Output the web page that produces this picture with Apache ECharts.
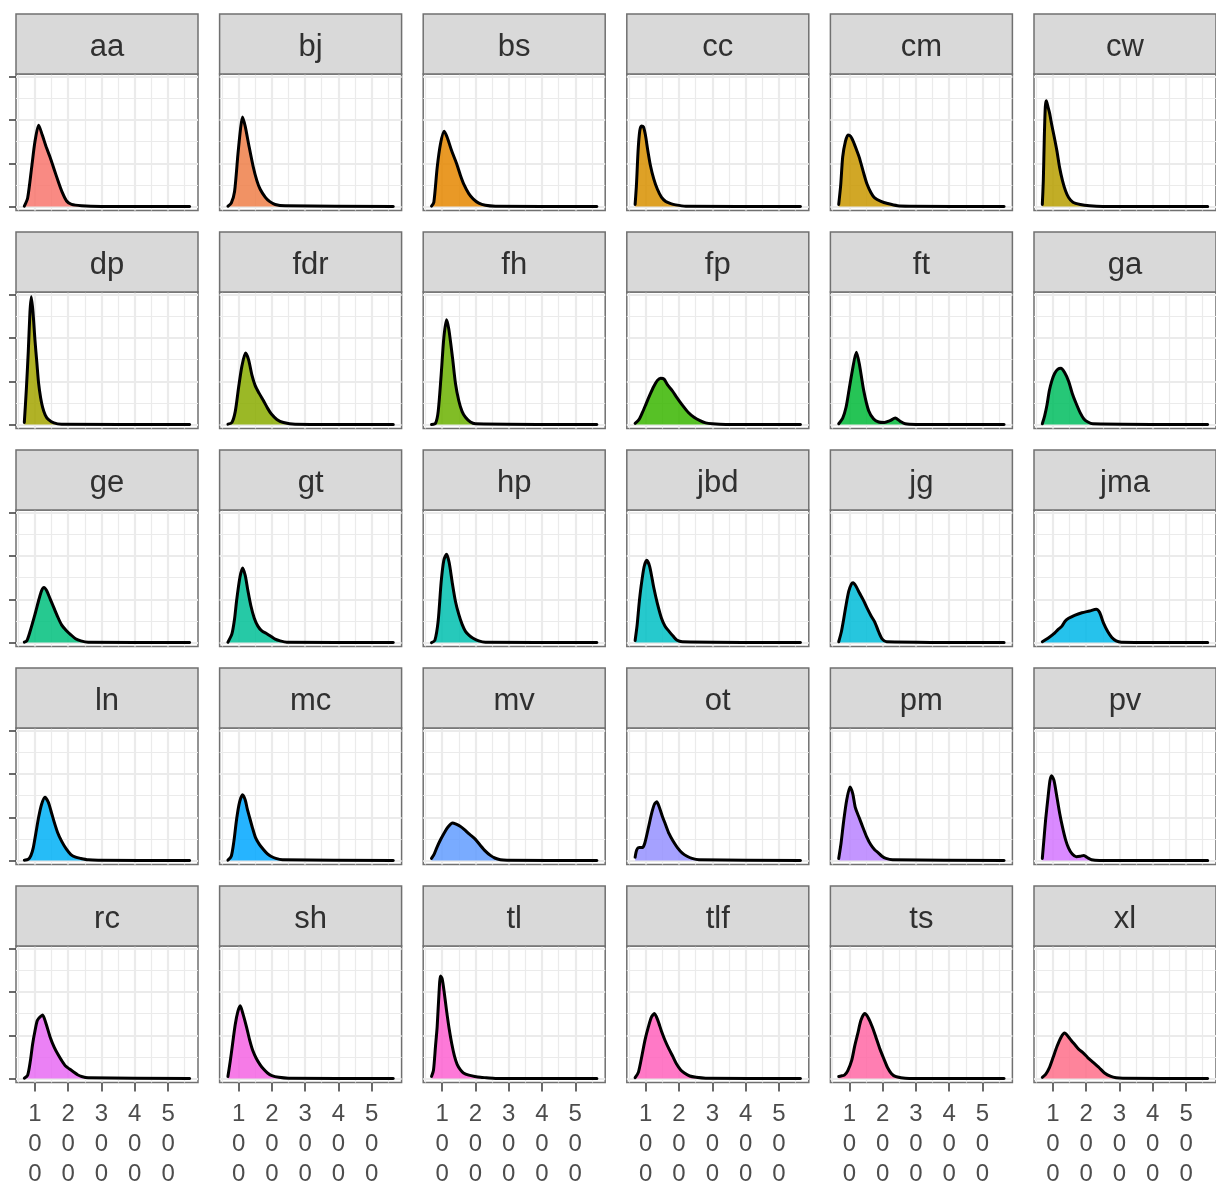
<!DOCTYPE html>
<html>
<head>
<meta charset="utf-8">
<title>Density by group</title>
<script src="https://cdn.jsdelivr.net/npm/echarts@6/dist/echarts.min.js"></script>
<style>
  html, body { margin: 0; padding: 0; background: #ffffff; }
  #chart { width: 1216px; height: 1184px; }
</style>
</head>
<body>
<div id="chart"></div>
<script>
// Facet names, in panel order (left to right, top to bottom)
const groups = ['aa', 'bj', 'bs', 'cc', 'cm', 'cw',
                'dp', 'fdr', 'fh', 'fp', 'ft', 'ga',
                'ge', 'gt', 'hp', 'jbd', 'jg', 'jma',
                'ln', 'mc', 'mv', 'ot', 'pm', 'pv',
                'rc', 'sh', 'tl', 'tlf', 'ts', 'xl'];

// Axis breaks
const xTicks = [100, 200, 300, 400, 500];
const xMinor = [50, 150, 250, 350, 450, 550];
const yTicks = [0, 1, 2, 3];
const yMinor = [0.5, 1.5, 2.5];

// Estimated density curves: [value, density]
const aa  = [[68,0.01],[78,0.2],[90,0.9],[100,1.5],[111,1.88],[122,1.65],[135,1.35],[146,1.13],[158,0.85],[170,0.58],[182,0.33],[195,0.13],[210,0.05],[240,0.02],[300,0.005],[565,0]];
const bj  = [[68,0.01],[78,0.08],[88,0.35],[98,1.2],[106,1.8],[112,2.07],[120,1.85],[130,1.45],[144,0.92],[155,0.6],[165,0.4],[180,0.22],[193,0.12],[210,0.05],[240,0.02],[565,0]];
const bs  = [[68,0.01],[75,0.1],[85,0.9],[95,1.45],[106,1.74],[115,1.6],[128,1.3],[143,1.0],[155,0.72],[166,0.5],[180,0.3],[193,0.18],[210,0.08],[230,0.03],[260,0.01],[565,0]];
const cc  = [[68,0.05],[72,0.5],[77,1.3],[82,1.75],[87,1.86],[93,1.84],[99,1.65],[106,1.3],[114,0.95],[124,0.64],[135,0.4],[147,0.22],[160,0.12],[175,0.07],[190,0.04],[220,0.01],[565,0]];
const cm  = [[68,0.05],[74,0.5],[80,1.15],[88,1.5],[96,1.65],[104,1.62],[112,1.5],[122,1.3],[130,1.13],[142,0.8],[153,0.52],[165,0.32],[176,0.2],[195,0.12],[215,0.07],[245,0.02],[280,0.01],[565,0]];
const cw  = [[68,0.05],[71,0.6],[74,1.6],[77,2.3],[80,2.44],[85,2.3],[90,2.15],[96,1.9],[104,1.6],[112,1.28],[120,0.9],[129,0.59],[138,0.36],[147,0.21],[160,0.1],[182,0.05],[210,0.02],[250,0.005],[565,0]];
const dp  = [[68,0.05],[74,0.8],[80,1.7],[85,2.6],[89,2.95],[94,2.6],[100,1.95],[106,1.4],[111,0.95],[117,0.62],[123,0.4],[131,0.22],[140,0.12],[157,0.04],[180,0.01],[565,0]];
const fdr = [[68,0.01],[80,0.05],[90,0.3],[100,0.85],[110,1.35],[121,1.65],[130,1.5],[140,1.15],[150,0.9],[162,0.72],[175,0.55],[187,0.38],[198,0.25],[215,0.12],[235,0.05],[270,0.01],[565,0]];
const fh  = [[68,0],[80,0.03],[88,0.3],[97,1.15],[105,2.0],[113,2.42],[120,2.2],[131,1.55],[140,0.95],[150,0.55],[160,0.3],[170,0.17],[185,0.06],[200,0.02],[565,0]];
const fp  = [[68,0.03],[80,0.12],[90,0.28],[101,0.48],[112,0.68],[124,0.88],[135,1.02],[145,1.07],[155,1.05],[165,0.92],[180,0.78],[193,0.63],[210,0.45],[228,0.28],[245,0.17],[263,0.09],[280,0.04],[300,0.02],[340,0.005],[565,0]];
const ft  = [[68,0.02],[80,0.15],[90,0.4],[99,0.8],[109,1.25],[121,1.67],[130,1.4],[143,0.79],[158,0.32],[173,0.13],[188,0.06],[205,0.05],[222,0.09],[238,0.15],[252,0.08],[268,0.02],[300,0.005],[565,0]];
const ga  = [[68,0.02],[75,0.2],[82,0.45],[89,0.78],[97,1.02],[105,1.18],[115,1.28],[124,1.3],[135,1.2],[147,1.0],[158,0.72],[170,0.48],[182,0.27],[193,0.13],[205,0.06],[220,0.02],[565,0]];
const ge  = [[68,0.01],[76,0.05],[85,0.25],[100,0.65],[112,1.0],[120,1.2],[127,1.27],[135,1.2],[145,1.02],[157,0.8],[168,0.6],[180,0.41],[194,0.28],[208,0.18],[222,0.09],[238,0.04],[260,0.01],[565,0]];
const gt  = [[68,0.01],[80,0.2],[88,0.55],[94,0.96],[104,1.5],[112,1.72],[120,1.55],[128,1.2],[137,0.85],[147,0.57],[158,0.38],[170,0.27],[186,0.2],[198,0.14],[210,0.08],[225,0.04],[245,0.01],[565,0]];
const hp  = [[68,0],[78,0.05],[88,0.5],[97,1.4],[105,1.9],[113,2.04],[121,1.85],[131,1.35],[140,0.95],[150,0.65],[160,0.42],[170,0.26],[182,0.16],[193,0.1],[210,0.04],[230,0.01],[565,0]];
const jbd = [[68,0.05],[74,0.4],[80,0.9],[86,1.3],[95,1.75],[103,1.9],[112,1.75],[124,1.27],[135,0.9],[147,0.57],[158,0.38],[170,0.26],[182,0.15],[193,0.06],[210,0.02],[565,0]];
const jg  = [[68,0.02],[76,0.25],[82,0.5],[89,0.82],[98,1.18],[106,1.35],[111,1.38],[120,1.3],[130,1.15],[142,0.98],[153,0.8],[165,0.62],[176,0.48],[188,0.25],[199,0.08],[212,0.02],[565,0]];
const jma = [[68,0.02],[85,0.1],[102,0.2],[115,0.3],[127,0.38],[137,0.5],[147,0.56],[165,0.63],[187,0.69],[210,0.73],[230,0.77],[240,0.7],[252,0.45],[265,0.25],[277,0.12],[290,0.04],[305,0.01],[565,0]];
const ln  = [[68,0.01],[80,0.03],[88,0.12],[95,0.3],[103,0.65],[111,1.0],[120,1.3],[130,1.46],[140,1.35],[148,1.15],[157,0.91],[168,0.65],[180,0.45],[194,0.27],[208,0.14],[222,0.08],[238,0.05],[260,0.02],[290,0.01],[565,0]];
const mc  = [[68,0.01],[78,0.1],[86,0.45],[94,0.95],[103,1.35],[112,1.52],[120,1.4],[126,1.2],[133,1.0],[142,0.75],[151,0.53],[162,0.38],[174,0.26],[186,0.16],[197,0.1],[212,0.05],[232,0.02],[565,0]];
const mv  = [[68,0.05],[76,0.15],[84,0.3],[95,0.48],[107,0.65],[118,0.78],[131,0.87],[142,0.84],[154,0.79],[166,0.72],[180,0.62],[190,0.56],[200,0.49],[215,0.35],[230,0.22],[245,0.12],[258,0.06],[275,0.02],[295,0.01],[565,0]];
const ot  = [[68,0.08],[73,0.25],[80,0.3],[90,0.3],[97,0.4],[108,0.76],[118,1.1],[126,1.3],[133,1.36],[140,1.25],[150,1.02],[159,0.84],[170,0.62],[182,0.45],[195,0.3],[209,0.18],[224,0.1],[239,0.05],[260,0.02],[565,0]];
const pm  = [[68,0.05],[75,0.4],[83,0.92],[92,1.4],[102,1.7],[110,1.55],[118,1.22],[130,0.98],[141,0.76],[152,0.55],[164,0.37],[176,0.25],[187,0.18],[198,0.1],[210,0.05],[230,0.02],[565,0]];
const pv  = [[68,0.05],[73,0.5],[78,0.95],[85,1.45],[91,1.85],[96,1.96],[103,1.85],[112,1.46],[120,1.1],[129,0.76],[138,0.48],[147,0.29],[158,0.15],[170,0.09],[182,0.1],[193,0.12],[203,0.07],[216,0.02],[240,0.005],[565,0]];
const rc  = [[68,0.01],[78,0.08],[86,0.4],[93,0.8],[100,1.1],[107,1.34],[115,1.42],[123,1.47],[132,1.3],[146,0.95],[158,0.72],[169,0.56],[180,0.42],[192,0.29],[204,0.22],[215,0.16],[228,0.09],[240,0.05],[260,0.02],[565,0]];
const sh  = [[68,0.05],[75,0.4],[82,0.8],[90,1.25],[98,1.55],[105,1.68],[113,1.5],[124,1.19],[133,0.9],[143,0.64],[153,0.47],[164,0.33],[175,0.22],[187,0.13],[200,0.07],[221,0.03],[250,0.01],[565,0]];
const tl  = [[68,0.05],[74,0.2],[80,0.75],[85,1.2],[90,1.9],[95,2.37],[100,2.3],[106,2.0],[113,1.58],[121,1.15],[129,0.8],[137,0.52],[145,0.33],[155,0.2],[164,0.13],[180,0.08],[198,0.05],[215,0.03],[233,0.02],[260,0.005],[565,0]];
const tlf = [[68,0.02],[78,0.15],[89,0.55],[98,0.9],[108,1.2],[117,1.42],[126,1.5],[136,1.35],[147,1.1],[158,0.88],[170,0.68],[182,0.5],[193,0.33],[205,0.2],[216,0.13],[232,0.06],[251,0.03],[280,0.01],[565,0]];
const ts  = [[68,0.05],[75,0.06],[85,0.08],[95,0.18],[107,0.42],[116,0.75],[125,1.03],[135,1.35],[146,1.5],[157,1.4],[169,1.19],[180,0.95],[192,0.68],[204,0.45],[215,0.25],[226,0.12],[238,0.05],[255,0.02],[280,0.005],[565,0]];
const xl  = [[68,0.03],[78,0.1],[89,0.25],[100,0.48],[112,0.74],[124,0.95],[135,1.05],[145,0.98],[155,0.88],[166,0.78],[177,0.68],[190,0.6],[205,0.48],[220,0.38],[239,0.25],[255,0.13],[274,0.05],[290,0.02],[310,0.01],[565,0]];

const curves = [aa, bj, bs, cc, cm, cw, dp, fdr, fh, fp, ft, ga, ge, gt, hp, jbd, jg, jma,
                ln, mc, mv, ot, pm, pv, rc, sh, tl, tlf, ts, xl];

// ---- layout ----
const NCOL = 6;
const COL_X0 = 16, COL_STEP = 203.6, PANEL_W = 182;
const ROW_Y0 = 14, ROW_STEP = 218, STRIP_H = 60, PANEL_H = 136.5;
const X_MIN = 43, X_MAX = 590;
const Y_MIN = -0.09, Y_MAX = 3.06;
const FONT = '"Liberation Sans", Arial, Helvetica, sans-serif';

// evenly spaced hues in HCL space (L = 65, C = 100)
function hclToRgb(h, c, l) {
  const Xn = 95.047, Yn = 100, Zn = 108.883;
  const hr = h * Math.PI / 180;
  const U = c * Math.cos(hr), V = c * Math.sin(hr);
  const Y = l > 8 ? Yn * Math.pow((l + 16) / 116, 3) : Yn * l / 903.3;
  const den = Xn + 15 * Yn + 3 * Zn;
  const un = 4 * Xn / den, vn = 9 * Yn / den;
  const up = U / (13 * l) + un, vp = V / (13 * l) + vn;
  const X = 9 * Y * up / (4 * vp);
  const Z = -X / 3 - 5 * Y + 3 * Y / vp;
  const x = X / 100, y = Y / 100, z = Z / 100;
  const lin = [
    3.240479 * x - 1.537150 * y - 0.498535 * z,
    -0.969256 * x + 1.875992 * y + 0.041556 * z,
    0.055648 * x - 0.204043 * y + 1.057311 * z
  ];
  return lin.map(v => {
    v = v <= 0.0031308 ? 12.92 * v : 1.055 * Math.pow(v, 1 / 2.4) - 0.055;
    return Math.round(255 * Math.max(0, Math.min(1, v)));
  });
}
const palette = groups.map((g, i) => {
  const rgb = hclToRgb(15 + 360 * i / groups.length, 100, 65);
  return 'rgba(' + rgb.join(',') + ',0.85)';
});

// background grid lines of each panel
const gridLines = [].concat(
  xMinor.map(v => ({ xAxis: v, lineStyle: { width: 1.2 } })),
  yMinor.map(v => ({ yAxis: v, lineStyle: { width: 1.2 } })),
  xTicks.map(v => ({ xAxis: v, lineStyle: { width: 2.2 } })),
  yTicks.map(v => ({ yAxis: v, lineStyle: { width: 2.2 } }))
);

const grids = [], xAxes = [], yAxes = [], series = [], graphics = [];
const nRow = Math.ceil(groups.length / NCOL);

groups.forEach((name, i) => {
  const col = i % NCOL, row = Math.floor(i / NCOL);
  const left = COL_X0 + col * COL_STEP;
  const stripTop = ROW_Y0 + row * ROW_STEP;
  const top = stripTop + STRIP_H;
  const bottomRow = row === nRow - 1;

  grids.push({
    left: left, top: top, width: PANEL_W, height: PANEL_H,
    show: true, backgroundColor: '#ffffff',
    borderColor: '#707070', borderWidth: 1.5,
    containLabel: false, outerBoundsMode: 'none'
  });

  xAxes.push({
    type: 'value', gridIndex: i, min: X_MIN, max: X_MAX,
    axisLine: { show: false, onZero: false },
    splitLine: { show: false },
    axisTick: {
      show: bottomRow, customValues: xTicks, length: 9,
      lineStyle: { color: '#444444', width: 1.6 }
    },
    axisLabel: {
      show: bottomRow, customValues: xTicks, margin: 17,
      formatter: v => String(v).split('').join('\n'),
      fontFamily: FONT, fontSize: 24, lineHeight: 30, color: '#4d4d4d'
    }
  });

  yAxes.push({
    type: 'value', gridIndex: i, min: Y_MIN, max: Y_MAX,
    axisLine: { show: false, onZero: false },
    splitLine: { show: false },
    axisTick: {
      show: col === 0, customValues: yTicks, length: 7,
      lineStyle: { color: '#444444', width: 1.6 }
    },
    axisLabel: { show: false }
  });

  series.push({
    name: name, type: 'line', xAxisIndex: i, yAxisIndex: i,
    data: curves[i], showSymbol: false, smooth: 0.25,
    z: 3, animation: false, silent: true,
    lineStyle: { color: '#000000', width: 3, join: 'round', cap: 'round' },
    areaStyle: { color: palette[i], opacity: 1 },
    markLine: {
      silent: true, symbol: ['none', 'none'], z: 1, animation: false,
      label: { show: false }, emphasis: { disabled: true },
      lineStyle: { color: '#EBEBEB', type: 'solid' },
      data: gridLines
    }
  });

  // facet strip
  graphics.push({
    type: 'rect', silent: true, z: 10,
    shape: { x: left, y: stripTop, width: PANEL_W, height: STRIP_H },
    style: { fill: '#D9D9D9', stroke: '#707070', lineWidth: 1.5 }
  });
  graphics.push({
    type: 'text', silent: true, z: 11,
    x: left + PANEL_W / 2, y: stripTop + STRIP_H / 2 + 3,
    style: {
      text: name, fill: '#303030', fontSize: 31, fontFamily: FONT,
      align: 'center', verticalAlign: 'middle',
      textAlign: 'center', textVerticalAlign: 'middle'
    }
  });
});

const chart = echarts.init(document.getElementById('chart'), null, { renderer: 'canvas' });
chart.setOption({
  backgroundColor: '#ffffff',
  animation: false,
  grid: grids,
  xAxis: xAxes,
  yAxis: yAxes,
  series: series,
  graphic: graphics
});
</script>
</body>
</html>
